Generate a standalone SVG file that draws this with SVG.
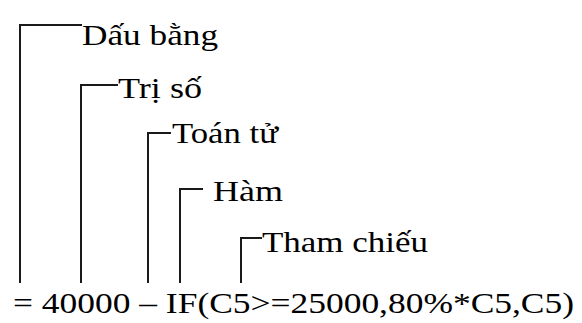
<svg xmlns="http://www.w3.org/2000/svg" width="582" height="323" viewBox="0 0 582 323">
<style>
.ln{fill:none;stroke:#1a1a1a;stroke-width:2;}
.t{font-family:"Liberation Serif","Times New Roman",serif;font-size:30px;fill:#000;}
</style>
<rect width="582" height="323" fill="#fff"/>
<g id="connectors">
<path class="ln" d="M20,283 V25 H82"/>
<path class="ln" d="M81,283 V85 H118"/>
<path class="ln" d="M148,283 V133 H171"/>
<path class="ln" d="M180,283 V189 H203"/>
<path class="ln" d="M241,283 V238 H262"/>
</g>
<g id="dau-bang"><text class="t" x="82" y="45" textLength="136" lengthAdjust="spacingAndGlyphs">Dấu bằng</text></g>
<g id="tri-so"><text class="t" x="118" y="98" textLength="84" lengthAdjust="spacingAndGlyphs">Trị số</text></g>
<g id="toan-tu"><text class="t" x="172" y="143" textLength="106" lengthAdjust="spacingAndGlyphs">Toán tử</text></g>
<g id="ham"><text class="t" x="213" y="201" textLength="70" lengthAdjust="spacingAndGlyphs">Hàm</text></g>
<g id="tham-chieu"><text class="t" x="262" y="252" textLength="166" lengthAdjust="spacingAndGlyphs">Tham chiếu</text></g>
<g id="formula"><text class="t" x="13" y="313" textLength="561" lengthAdjust="spacingAndGlyphs">= 40000 – IF(C5&gt;=25000,80%*C5,C5)</text></g>
</svg>
